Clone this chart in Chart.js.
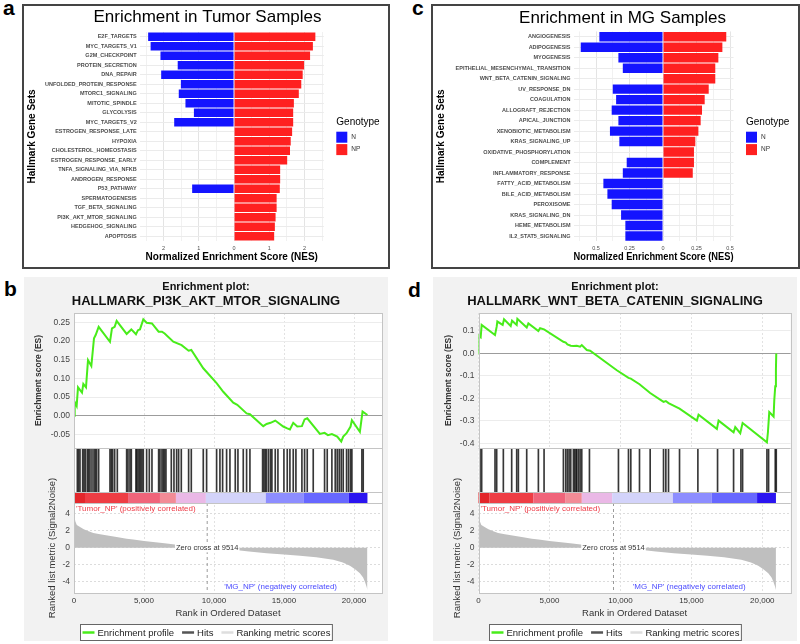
<!DOCTYPE html>
<html>
<head>
<meta charset="utf-8">
<script src="https://cdn.jsdelivr.net/npm/chart.js@4.4.1/dist/chart.umd.min.js"></script>
<style>
body{margin:0;width:800px;height:644px;position:relative;overflow:hidden;background:#fff;font-family:"Liberation Sans",Arial,sans-serif}
.lt{position:absolute;font-weight:bold;font-size:21px;line-height:21px;color:#000}
.box{position:absolute;border:2px solid #444;background:#fff}
.gsea{position:absolute;background:#f2f2f2}
canvas{display:block}
</style>
</head>
<body>
<div class="lt" style="left:3px;top:-3px">a</div>
<div class="lt" style="left:412px;top:-3px">c</div>
<div class="lt" style="left:4px;top:278px">b</div>
<div class="lt" style="left:408px;top:279px">d</div>

<div class="box" style="left:22px;top:4px;width:364px;height:261px"><canvas id="chartA" width="364" height="261"></canvas></div>
<div class="box" style="left:431px;top:4px;width:365px;height:261px"><canvas id="chartC" width="365" height="261"></canvas></div>
<div class="gsea" style="left:24px;top:277px;width:364px;height:364px"><canvas id="chartB" width="364" height="364"></canvas></div>
<div class="gsea" style="left:433px;top:277px;width:364px;height:364px"><canvas id="chartD" width="364" height="364"></canvas></div>

<script>
// panel a: tumour samples
const tumorSets = ['E2F_TARGETS', 'MYC_TARGETS_V1', 'G2M_CHECKPOINT', 'PROTEIN_SECRETION', 'DNA_REPAIR',
  'UNFOLDED_PROTEIN_RESPONSE', 'MTORC1_SIGNALING', 'MITOTIC_SPINDLE', 'GLYCOLYSIS', 'MYC_TARGETS_V2',
  'ESTROGEN_RESPONSE_LATE', 'HYPOXIA', 'CHOLESTEROL_HOMEOSTASIS', 'ESTROGEN_RESPONSE_EARLY',
  'TNFA_SIGNALING_VIA_NFKB', 'ANDROGEN_RESPONSE', 'P53_PATHWAY', 'SPERMATOGENESIS', 'TGF_BETA_SIGNALING',
  'PI3K_AKT_MTOR_SIGNALING', 'HEDGEHOG_SIGNALING', 'APOPTOSIS'];
const tumorN = [2.44, 2.37, 2.09, 1.60, 2.07, 1.51, 1.57, 1.38, 1.14, 1.70,
  null, null, null, null, null, null, 1.19, null, null, null, null, null];
const tumorNP = [2.31, 2.24, 2.16, 1.99, 1.95, 1.91, 1.84, 1.70, 1.68, 1.68,
  1.65, 1.61, 1.59, 1.51, 1.31, 1.31, 1.30, 1.21, 1.21, 1.18, 1.16, 1.14];
const tumorTicks = [-2, -1, 0, 1, 2];

// panel c: MG samples
const mgSets = ['ANGIOGENESIS', 'ADIPOGENESIS', 'MYOGENESIS', 'EPITHELIAL_MESENCHYMAL_TRANSITION',
  'WNT_BETA_CATENIN_SIGNALING', 'UV_RESPONSE_DN', 'COAGULATION', 'ALLOGRAFT_REJECTION', 'APICAL_JUNCTION',
  'XENOBIOTIC_METABOLISM', 'KRAS_SIGNALING_UP', 'OXIDATIVE_PHOSPHORYLATION', 'COMPLEMENT',
  'INFLAMMATORY_RESPONSE', 'FATTY_ACID_METABOLISM', 'BILE_ACID_METABOLISM', 'PEROXISOME',
  'KRAS_SIGNALING_DN', 'HEME_METABOLISM', 'IL2_STAT5_SIGNALING'];
const mgN = [0.475, 0.614, 0.333, 0.300, null, 0.375, 0.350, 0.383, 0.333, 0.396,
  0.326, null, 0.271, 0.300, 0.445, 0.415, 0.383, 0.313, 0.281, 0.281];
const mgNP = [0.472, 0.443, 0.413, 0.390, 0.390, 0.341, 0.311, 0.291, 0.281, 0.264,
  0.241, 0.231, 0.231, 0.222, null, null, null, null, null, null];
const mgTicks = [-0.5, -0.25, 0, 0.25, 0.5];

// panel b: HALLMARK_PI3K_AKT_MTOR_SIGNALING running enrichment score
const pi3kRank = [0, 48, 190, 286, 571, 666, 857, 1000, 1238, 1428, 1547, 1761, 2570, 2713, 2904, 3046,
  3760, 4094, 4427, 4570, 4712, 4950, 5188, 5569, 6045, 6283, 6474, 7092, 7687, 8187, 8378, 9234,
  10186, 10662, 11376, 11662, 12328, 12566, 13518, 13756, 14042, 14375, 14946, 15232, 15422, 15660,
  15946, 16279, 16470, 16660, 17564, 17898, 18136, 18421, 18802, 19088, 19230, 19468, 19754, 19849,
  20420, 20611, 20960];
const pi3kES = [0, 0.037, 0.026, 0.076, 0.062, 0.085, 0.076, 0.149, 0.133, 0.207, 0.216, 0.238, 0.198,
  0.234, 0.238, 0.254, 0.219, 0.231, 0.218, 0.229, 0.231, 0.258, 0.249, 0.247, 0.225, 0.225, 0.220,
  0.198, 0.189, 0.174, 0.176, 0.127, 0.087, 0.064, 0.035, 0.029, 0.006, 0.004, -0.028, -0.022, -0.019,
  -0.013, -0.029, -0.034, -0.037, -0.019, -0.029, -0.028, -0.010, -0.007, -0.049, -0.046, -0.052,
  -0.049, -0.056, -0.069, -0.056, -0.047, -0.029, -0.012, -0.043, 0.011, 0.002];
const pi3kHits = [238, 333, 428, 619, 714, 809, 952, 1047, 1142, 1285, 1428, 1523, 1618, 1761, 2570,
  2666, 2761, 2904, 3094, 3760, 3856, 3998, 4094, 4427, 4474, 4570, 4665, 4760, 4855, 4950, 5188,
  5379, 5569, 6045, 6140, 6283, 6378, 6474, 6569, 6950, 7140, 7330, 7473, 7664, 8187, 8378, 9234,
  9472, 10186, 10424, 10615, 10900, 11138, 11519, 11710, 12090, 12328, 12566, 13471, 13566, 13661,
  13756, 13899, 14042, 14137, 14375, 14566, 14994, 15232, 15422, 15660, 15851, 16279, 16470, 16660,
  17088, 17898, 18088, 18421, 18659, 18802, 18945, 19088, 19230, 19468, 19611, 19754, 19849, 20563,
  20658];
const pi3kEsTicks = [-0.05, 0, 0.05, 0.10, 0.15, 0.20, 0.25];

// panel d: HALLMARK_WNT_BETA_CATENIN_SIGNALING running enrichment score
const wntRank = [0, 35, 153, 223, 1164, 1281, 1328, 1704, 1798, 2269, 2363, 2692, 2739, 3397, 3515,
  4220, 4338, 4620, 5983, 6148, 6266, 6501, 6689, 6924, 7159, 7277, 7630, 7865, 9746, 10569, 10733,
  11345, 12097, 13038, 13202, 13390, 14166, 15389, 15506, 16799, 16917, 17975, 18093, 18445, 18610,
  20325, 20395, 20489, 20795, 20842, 20912, 20959, 20982];
const wntES = [0, 0.078, 0.072, 0.127, 0.082, 0.119, 0.142, 0.127, 0.152, 0.122, 0.146, 0.127, 0.154,
  0.115, 0.134, 0.100, 0.112, 0.107, 0.052, 0.048, 0.040, 0.034, 0.033, 0.034, 0.030, 0.037, 0.015,
  0.012, -0.075, -0.109, -0.112, -0.137, -0.176, -0.216, -0.212, -0.221, -0.246, -0.299, -0.273,
  -0.336, -0.299, -0.351, -0.328, -0.355, -0.310, -0.396, -0.351, -0.261, -0.281, -0.209, -0.146,
  -0.072, 0];
const wntHits = [106, 223, 1164, 1281, 1751, 2339, 2692, 2810, 3397, 4220, 4620, 5983, 6148, 6266,
  6384, 6501, 6689, 6783, 6877, 6924, 7042, 7159, 7277, 7818, 9862, 10569, 10733, 11345, 12097,
  13038, 13202, 13390, 14166, 15459, 16846, 17975, 18492, 18610, 20325, 20442, 20912, 20982];
const wntEsTicks = [-0.4, -0.3, -0.2, -0.1, 0, 0.1];

// ranked list metric (same ranking for b and d)
const metricRank = [0, 40, 100, 200, 430, 700, 1000, 1380, 1860, 2500, 3046, 3760, 4236, 5000, 6140,
  6616, 7500, 8500, 9514, 10500, 11376, 12500, 13756, 15000, 16140, 17300, 18520, 19200, 19710,
  20100, 20420, 20650, 20780, 20900, 20960];
const metricValue = [4.4, 3.6, 3.1, 2.7, 2.45, 2.2, 2.0, 1.75, 1.62, 1.42, 1.27, 1.08, 0.98, 0.82, 0.59,
  0.51, 0.34, 0.17, 0, -0.13, -0.24, -0.42, -0.63, -0.8, -0.95, -1.12, -1.42, -1.72, -2.13,
  -2.55, -3.0, -3.5, -4.0, -4.6, -5.0];
const metricTicks = [-4, -2, 0, 2, 4];
const rankTicks = [0, 5000, 10000, 15000, 20000];
const zeroCross = 9514;
const colorBarEdges = [0, 785, 3860, 6140, 7280, 9420, 13700, 16420, 19630, 20960];
const colorBarColors = ['#e3262b', '#ee3d44', '#f0647a', '#f28b96', '#eab8e6', '#d3d3fa', '#8d8dff', '#6767ff', '#2b15f0'];

Chart.defaults.font.family = '"Liberation Sans", Arial, sans-serif';
Chart.defaults.color = '#333';
Chart.defaults.animation = false;
Chart.defaults.events = [];

// invisible axis that keeps room on the right (legend / margin) without shrinking the title
function spacer(width) {
  return { type: 'linear', axis: 'y', position: 'right', min: 0, max: 1,
    ticks: { display: false }, grid: { display: false }, border: { display: false },
    afterFit: s => { s.width = width; } };
}

// ---------- ggplot style NES bar charts ----------
const genotypeLegend = {
  id: 'genotypeLegend',
  afterDraw(chart) {
    const {ctx, chartArea} = chart;
    const x = chartArea.right + 12.5;
    ctx.save();
    ctx.textBaseline = 'middle';
    ctx.fillStyle = '#000';
    ctx.font = '10px "Liberation Sans"';
    ctx.fillText('Genotype', x, 116.5);
    chart.data.datasets.forEach((ds, i) => {
      const y = 125.7 + i * 12.4;
      ctx.fillStyle = ds.backgroundColor;
      ctx.fillRect(x, y, 11, 11);
      ctx.fillStyle = '#333';
      ctx.font = '6.5px "Liberation Sans"';
      ctx.fillText(ds.label, x + 15, y + 5.5);
    });
    ctx.restore();
  }
};

function nesChart(id, sets, nVals, npVals, title, majors, lay) {
  const step = majors[1] - majors[0];
  new Chart(document.getElementById(id), {
    type: 'bar',
    data: {
      labels: sets,
      datasets: [
        { label: 'N', data: nVals.map(v => v == null ? null : -v), backgroundColor: '#1414ff',
          barPercentage: 0.9, categoryPercentage: 1 },
        { label: 'NP', data: npVals, backgroundColor: '#ff2020',
          barPercentage: 0.9, categoryPercentage: 1 }
      ]
    },
    options: {
      indexAxis: 'y',
      responsive: false,
      layout: { padding: { left: lay.shift, right: 0, top: 0, bottom: 0 } },
      scales: {
        x: {
          stacked: true, min: lay.min, max: lay.max,
          afterBuildTicks: s => {
            const vals = majors.map(v => ({ value: v, isMajor: true }));
            [majors[0] - step / 2, ...majors.map(v => v + step / 2)].forEach(v => {
              if (v > lay.min && v < lay.max) vals.push({ value: v });
            });
            s.ticks = vals.sort((p, q) => p.value - q.value);
          },
          ticks: {
            autoSkip: false, maxRotation: 0, padding: lay.tickPad,
            font: { size: 5.5 }, color: '#4d4d4d',
            callback: (v, i, t) => t[i].isMajor ? String(Math.abs(v)) : ''
          },
          grid: { drawTicks: false, color: c => c.tick && c.tick.isMajor ? '#e4e4e4' : '#f1f1f1' },
          border: { display: false },
          title: { display: true, text: 'Normalized Enrichment Score (NES)', color: '#000',
            font: { size: 10, weight: 'bold' }, padding: { top: 0, bottom: 4 } },
          afterFit: s => { s.height = lay.xH; }
        },
        y: {
          stacked: true,
          ticks: { autoSkip: false, padding: 3, font: { size: 5.5, weight: 'bold' }, color: '#4d4d4d' },
          grid: { offset: false, drawTicks: false, color: '#ebebeb' },
          border: { display: false },
          title: { display: true, text: 'Hallmark Gene Sets', color: '#000',
            font: { size: 10, weight: 'bold' }, padding: { top: 2 - lay.shift, bottom: 0 } },
          afterFit: s => { s.width = lay.left - lay.shift; }
        },
        spacer: spacer(lay.padR)
      },
      plugins: {
        legend: { display: false },
        tooltip: { enabled: false },
        title: { display: true, text: title, color: '#000', font: { size: 17, weight: 'normal' },
          padding: { top: lay.tTop, bottom: lay.tBot } }
      }
    },
    plugins: [genotypeLegend]
  });
}

nesChart('chartA', tumorSets, tumorN, tumorNP, 'Enrichment in Tumor Samples', tumorTicks,
  { min: -2.68, max: 2.55, left: 115.7, shift: 3, padR: 64.2, tTop: 0.8, tBot: 4.75, xH: 26.05, tickPad: 4.3 });
nesChart('chartC', mgSets, mgN, mgNP, 'Enrichment in MG Samples', mgTicks,
  { min: -0.668, max: 0.526, left: 140.5, shift: 14, padR: 64.5, tTop: 1.8, tBot: 3.25, xH: 25.75, tickPad: 3.7 });

// ---------- GSEA enrichment plots ----------
const gseaDecor = {
  id: 'gseaDecor',
  beforeDraw(chart) {
    const {ctx, chartArea: a} = chart;
    ctx.save();
    ctx.fillStyle = '#fff';
    ctx.fillRect(a.left, a.top, a.width, a.height);
    ctx.restore();
  },
  beforeDatasetsDraw(chart) {
    const {ctx, chartArea: a, scales: s} = chart;
    ctx.save();
    ctx.fillStyle = '#fff';
    ctx.fillRect(a.left, s.yHit.top, a.width, s.yBar.bottom - s.yHit.top);
    ctx.restore();
  },
  afterDatasetsDraw(chart) {
    const {ctx, chartArea: a, scales: {x, yBar, yHit, yRank}} = chart;
    ctx.save();
    colorBarColors.forEach((c, i) => {
      const x0 = x.getPixelForValue(colorBarEdges[i]);
      const x1 = x.getPixelForValue(colorBarEdges[i + 1]);
      ctx.fillStyle = c;
      ctx.fillRect(x0, yBar.top, x1 - x0, yBar.bottom - yBar.top);
    });
    const zx = x.getPixelForValue(zeroCross);
    ctx.strokeStyle = '#9a9a9a';
    ctx.lineWidth = 1;
    ctx.setLineDash([3, 3]);
    ctx.beginPath();
    ctx.moveTo(zx, yRank.top);
    ctx.lineTo(zx, yRank.bottom);
    ctx.stroke();
    ctx.setLineDash([]);
    ctx.strokeStyle = '#c4c4c4';
    [yHit.top, yBar.top, yBar.bottom].forEach(y => {
      ctx.beginPath();
      ctx.moveTo(a.left, Math.round(y) + 0.5);
      ctx.lineTo(a.right, Math.round(y) + 0.5);
      ctx.stroke();
    });
    ctx.strokeRect(Math.round(a.left) + 0.5, Math.round(a.top) + 0.5, Math.round(a.width), Math.round(a.height));

    const zy = yRank.getPixelForValue(0);
    const label = 'Zero cross at ' + zeroCross;
    ctx.font = '7.5px "Liberation Sans"';
    const w = ctx.measureText(label).width;
    ctx.fillStyle = '#fff';
    ctx.fillRect(zx - w / 2 - 1, zy - 4.5, w + 2, 9);
    ctx.fillStyle = '#333';
    ctx.textAlign = 'center';
    ctx.textBaseline = 'middle';
    ctx.fillText(label, zx, zy + 0.5);
    ctx.font = '8px "Liberation Sans"';
    ctx.textAlign = 'left';
    ctx.fillStyle = '#ee3b47';
    ctx.fillText("'Tumor_NP' (positively correlated)", a.left + 2, yRank.top + 5.5);
    ctx.textAlign = 'right';
    ctx.fillStyle = '#4b4bff';
    ctx.fillText("'MG_NP' (negatively correlated)", a.right - 45, yRank.bottom - 6);
    ctx.restore();
  },
  afterDraw(chart) {
    const {ctx, width, scales: {x}} = chart;
    ctx.save();
    ctx.font = '9.5px "Liberation Sans"';
    const items = chart.data.datasets.map(ds => ({ label: ds.label, color: ds.borderColor,
      w: ctx.measureText(ds.label).width }));
    const lineLen = 12, gap = 3, sep = 8, pad = 2;
    const total = items.reduce((t, it) => t + lineLen + gap + it.w, 0) + sep * (items.length - 1) + pad * 2;
    const left = Math.round((width - total) / 2) + 0.5;
    const top = Math.round(x.bottom + 3) + 0.5, h = 16;
    ctx.fillStyle = '#fff';
    ctx.fillRect(left, top, total, h);
    ctx.strokeStyle = '#666';
    ctx.lineWidth = 1;
    ctx.strokeRect(left, top, total, h);
    let cx = left + pad;
    const cy = top + h / 2;
    items.forEach(it => {
      ctx.strokeStyle = it.color;
      ctx.lineWidth = 2.5;
      ctx.beginPath();
      ctx.moveTo(cx, cy);
      ctx.lineTo(cx + lineLen, cy);
      ctx.stroke();
      ctx.fillStyle = '#222';
      ctx.textBaseline = 'middle';
      ctx.fillText(it.label, cx + lineLen + gap, cy + 0.5);
      cx += lineLen + gap + it.w + sep;
    });
    ctx.restore();
  }
};

function pickTicks(list) {
  return s => { s.ticks = list.map(v => ({ value: v })); };
}

function gseaChart(id, o) {
  const hidden = { ticks: { display: false }, grid: { display: false }, border: { display: false } };
  new Chart(document.getElementById(id), {
    type: 'line',
    data: {
      datasets: [
        { label: 'Enrichment profile', data: o.rank.map((r, i) => ({ x: r, y: o.es[i] })), yAxisID: 'yES',
          borderColor: '#48ec1a', borderWidth: 2, pointRadius: 0, tension: 0, fill: false },
        { type: 'bar', label: 'Hits', data: o.hits.map(r => ({ x: r, y: 1 })), yAxisID: 'yHit',
          backgroundColor: 'rgba(20,20,20,0.85)', borderColor: '#555', barThickness: 1 },
        { label: 'Ranking metric scores', data: metricRank.map((r, i) => ({ x: r, y: metricValue[i] })),
          yAxisID: 'yRank', fill: 'origin', backgroundColor: '#bfbfbf', borderColor: '#dedede',
          borderWidth: 0, pointRadius: 0, tension: 0 }
      ]
    },
    options: {
      responsive: false,
      layout: { padding: { left: 0, right: 0, top: 0, bottom: 20 } },
      scales: {
        x: {
          type: 'linear', min: 0, max: 22000, offset: false,
          afterBuildTicks: pickTicks(rankTicks),
          ticks: { autoSkip: false, maxRotation: 0, padding: 3, font: { size: 8 }, color: '#333',
            callback: v => v.toLocaleString('en-US') },
          grid: { offset: false, drawTicks: false, color: '#e2e2e2' },
          border: { display: false, dash: [2, 2] },
          title: { display: true, text: 'Rank in Ordered Dataset', color: '#333', font: { size: 9.5 },
            padding: { top: 0, bottom: 2.3 } },
          afterFit: s => { s.height = 28; }
        },
        yRank: {
          type: 'linear', axis: 'y', position: 'left', stack: 'gsea', stackWeight: 90,
          min: -5.34, max: 5.3,
          afterBuildTicks: pickTicks(metricTicks),
          ticks: { padding: 4, font: { size: 8.5 }, color: '#444', autoSkip: false },
          grid: { drawTicks: false, color: '#dcdcdc' },
          border: { display: false, dash: [2, 2] },
          title: { display: true, text: 'Ranked list metric (Signal2Noise)', color: '#333',
            font: { size: 9.5 }, padding: { top: o.rankTitle, bottom: 0 } },
          afterFit: s => { s.width = o.axisW; }
        },
        yBar: Object.assign({ type: 'linear', axis: 'y', position: 'left', stack: 'gsea', stackWeight: 11,
          min: 0, max: 1, afterFit: s => { s.width = o.axisW; } }, hidden),
        yHit: Object.assign({ type: 'linear', axis: 'y', position: 'left', stack: 'gsea', stackWeight: 44,
          min: 0, max: 1, afterFit: s => { s.width = o.axisW; } }, hidden),
        yES: {
          type: 'linear', axis: 'y', position: 'left', stack: 'gsea', stackWeight: 135,
          min: o.esMin, max: o.esMax,
          afterBuildTicks: pickTicks(o.esTicks),
          ticks: { padding: 4, font: { size: 8.5 }, color: '#444', autoSkip: false,
            callback: v => v.toFixed(o.digits) },
          grid: { drawTicks: false, color: c => c.tick && c.tick.value === 0 ? '#9c9c9c' : '#ececec' },
          border: { display: false },
          title: { display: true, text: 'Enrichment score (ES)', color: '#333',
            font: { size: 8.5, weight: 'bold' }, padding: { top: o.esTitle, bottom: 0 } },
          afterFit: s => { s.width = o.axisW; }
        },
        spacer: spacer(o.padR)
      },
      plugins: {
        legend: { display: false },
        tooltip: { enabled: false },
        title: { display: true, text: 'Enrichment plot:', color: '#111', font: { size: 11, weight: 'bold' },
          padding: { top: 3, bottom: 0 } },
        subtitle: { display: true, text: o.name, color: '#111', font: { size: 13, weight: 'bold' },
          padding: { top: 0.7, bottom: 3.5 } }
      }
    },
    plugins: [gseaDecor]
  });
}

gseaChart('chartB', { name: 'HALLMARK_PI3K_AKT_MTOR_SIGNALING', rank: pi3kRank, es: pi3kES, hits: pi3kHits,
  esTicks: pi3kEsTicks, esMin: -0.0865, esMax: 0.275, digits: 2, axisW: 50, padR: 6,
  esTitle: 9.6, rankTitle: 22.6 });
gseaChart('chartD', { name: 'HALLMARK_WNT_BETA_CATENIN_SIGNALING', rank: wntRank, es: wntES, hits: wntHits,
  esTicks: wntEsTicks, esMin: -0.421, esMax: 0.18, digits: 1, axisW: 45.5, padR: 6.3,
  esTitle: 10.6, rankTitle: 19.1 });
</script>
</body>
</html>
